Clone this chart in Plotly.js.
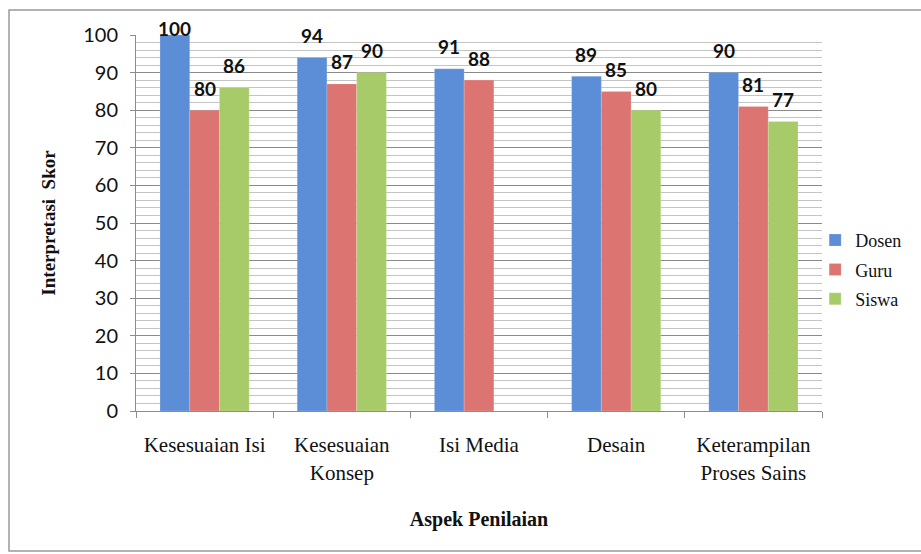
<!DOCTYPE html>
<html>
<head>
<meta charset="utf-8">
<script src="https://cdn.plot.ly/plotly-3.0.1.min.js"></script>
<style>html,body{margin:0;padding:0;background:#fff;}#chart{width:921px;height:554px;}</style>
</head>
<body>
<div id="chart"></div>
<script>
var categories = ["Kesesuaian Isi", "Kesesuaian<br>Konsep", "Isi Media", "Desain", "Keterampilan<br>Proses Sains"];
var seriesNames = ["Dosen", "Guru", "Siswa"];
var dosen = [100, 94, 91, 89, 90];
var guru = [80, 87, 88, 85, 81];
var siswa = [86, 90, null, 80, 77];
var yTicks = [0, 10, 20, 30, 40, 50, 60, 70, 80, 90, 100];

var colors = ["#5B8ED6", "#DC7472", "#A8CB69"];
var allValues = [dosen, guru, siswa];

var marginL = 136, marginR = 99, marginT = 35, marginB = 143;
var W = 921, H = 554;
var plotW = W - marginL - marginR, plotH = H - marginT - marginB;
var bargap = 0.35;
var barPx = plotW / categories.length * (1 - bargap) / 3;
var pxPerUnit = plotH / 100;

var serif = "Liberation Serif, Times New Roman, serif";
var sans = "Lato, Liberation Sans, Arial, sans-serif";

var traces = allValues.map(function (vals, i) {
  return {
    type: "bar",
    name: seriesNames[i],
    legendgroup: seriesNames[i],
    x: categories,
    y: vals,
    marker: {color: colors[i], line: {color: "rgba(255,255,255,0.35)", width: 0.5}},
    hoverinfo: "x+y+name"
  };
});

var annotations = [];
allValues.forEach(function (vals, i) {
  vals.forEach(function (v, j) {
    if (v === null) return;
    annotations.push({
      x: categories[j], y: v, xref: "x", yref: "y",
      text: "<b>" + v + "</b>", showarrow: false,
      xshift: (i - 1) * barPx,
      yshift: Math.min(22, (100 - v) * pxPerUnit + 7),
      font: {family: sans, size: 19, color: "#111"}
    });
  });
});

var layout = {
  width: W, height: H,
  margin: {l: marginL, r: marginR, t: marginT, b: marginB, pad: 0, autoexpand: false},
  paper_bgcolor: "#fff", plot_bgcolor: "#fff",
  barmode: "group", bargap: bargap, bargroupgap: 0,
  showlegend: true,
  legend: {x: 0.99, y: 0.503, xanchor: "left", yanchor: "top",
    font: {family: serif, size: 18, color: "#111"},
    itemwidth: 30, tracegroupgap: 3, bgcolor: "rgba(0,0,0,0)"},
  xaxis: {
    type: "category",
    tickfont: {family: serif, size: 21, color: "#111"},
    showline: true, linecolor: "#8c8c8c", linewidth: 1,
    ticks: "outside", tickson: "boundaries", ticklen: 6, tickcolor: "#8c8c8c",
    ticklabelstandoff: 15,
    showgrid: false,
    title: {text: "<b>Aspek Penilaian</b>", standoff: 28,
      font: {family: serif, size: 20, color: "#111"}}
  },
  yaxis: {
    range: [0, 100], tickvals: yTicks, ticktext: yTicks.map(String),
    tickfont: {family: sans, size: 20, color: "#111"},
    showline: true, linecolor: "#8c8c8c", linewidth: 1,
    ticks: "outside", ticklen: 5, tickcolor: "#8c8c8c",
    ticklabelstandoff: 8,
    showgrid: true, gridcolor: "#8a8a8a", gridwidth: 1,
    zeroline: false,
    minor: {dtick: 2, showgrid: true, gridcolor: "#c4c4c4", gridwidth: 1, ticks: ""},
    title: {text: "<b>Interpretasi  Skor</b>", standoff: 22,
      font: {family: serif, size: 19, color: "#111"}}
  },
  annotations: annotations,
  shapes: [{
    type: "rect", xref: "paper", yref: "paper",
    x0: (9 - marginL) / plotW, x1: (930 - marginL) / plotW,
    y0: (H - marginB - 551) / plotH, y1: (H - marginB - 10) / plotH,
    line: {color: "#9a9a9a", width: 1.5}, fillcolor: "rgba(0,0,0,0)", layer: "below"
  }]
};

Plotly.newPlot("chart", traces, layout, {displayModeBar: false, staticPlot: true});
</script>
</body>
</html>
